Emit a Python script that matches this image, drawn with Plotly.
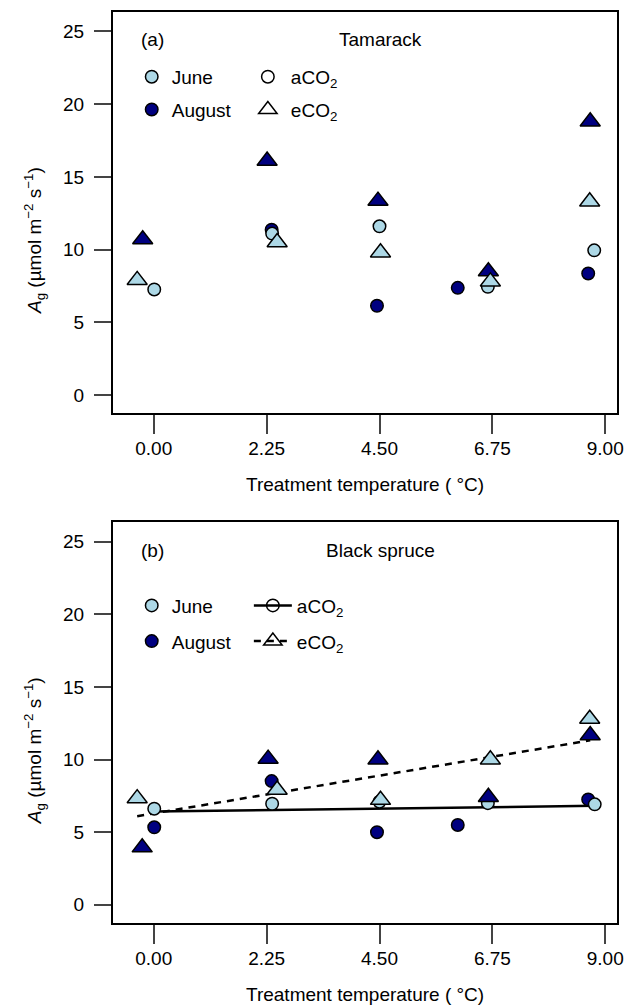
import numpy as np
import plotly.graph_objects as go

# ---------------- data ----------------
TICK_VALS = [0, 2.25, 4.5, 6.75, 9]
TICK_TEXT = ["0.00", "2.25", "4.50", "6.75", "9.00"]
Y_TICKS = [0, 5, 10, 15, 20, 25]

# Panel (a) Tamarack
tam_june_a_x = [0.01, 2.36, 4.50, 6.66, 8.78]
tam_june_a_y = [7.26, 11.1, 11.6, 7.44, 9.95]
tam_aug_a_x = [2.35, 4.45, 6.06, 8.66]
tam_aug_a_y = [11.37, 6.14, 7.37, 8.36]
tam_june_e_x = [-0.33, 2.46, 4.52, 6.71, 8.69]
tam_june_e_y = [7.9, 10.5, 9.8, 7.8, 13.3]
tam_aug_e_x = [-0.22, 2.26, 4.47, 6.67, 8.70]
tam_aug_e_y = [10.7, 16.1, 13.35, 8.5, 18.8]

# Panel (b) Black spruce
bs_june_a_x = [0.01, 2.36, 4.50, 6.66, 8.79]
bs_june_a_y = [6.62, 6.96, 7.1, 7.0, 6.92]
bs_aug_a_x = [0.01, 2.35, 4.45, 6.06, 8.66]
bs_aug_a_y = [5.34, 8.52, 5.0, 5.5, 7.26]
bs_june_e_x = [-0.33, 2.46, 4.52, 6.71, 8.69]
bs_june_e_y = [7.33, 7.92, 7.22, 10.0, 12.8]
bs_aug_e_x = [-0.23, 2.28, 4.47, 6.67, 8.70]
bs_aug_e_y = [3.95, 10.05, 10.0, 7.42, 11.67]

# ---------------- style ----------------
FONT = "Liberation Sans, Arial, Helvetica, sans-serif"
FS = 19
LIGHT = "#ADD8E6"
NAVY = "#000080"
CIRC = 12.5
TRI = 17.5
W, H = 635, 1005
ML, MR, MT, MB = 113.3, 18.3, 10, 81.7
PW = W - ML - MR
PH = H - MT - MB


def px_x(p):
    return (p - ML) / PW


def px_y(p):
    return (H - MB - p) / PH


fig = go.Figure()


def add_points(xs, ys, color, symbol, size, xa, ya):
    fig.add_trace(go.Scatter(
        x=xs, y=ys, mode="markers", xaxis=xa, yaxis=ya, showlegend=False,
        marker=dict(symbol=symbol, size=size, color=color,
                    line=dict(color="black", width=1.5)),
        hoverinfo="skip"))


# Panel (a)
add_points(tam_aug_a_x, tam_aug_a_y, NAVY, "circle", CIRC, "x", "y")
add_points(tam_june_a_x, tam_june_a_y, LIGHT, "circle", CIRC, "x", "y")
add_points(tam_aug_e_x, tam_aug_e_y, NAVY, "triangle-up", TRI, "x", "y")
add_points(tam_june_e_x, tam_june_e_y, LIGHT, "triangle-up", TRI, "x", "y")

# Panel (b) fitted lines (OLS per CO2 treatment)
a_x = np.array(bs_june_a_x + bs_aug_a_x)
a_y = np.array(bs_june_a_y + bs_aug_a_y)
e_x = np.array(bs_june_e_x + bs_aug_e_x)
e_y = np.array(bs_june_e_y + bs_aug_e_y)
for xs, ys, dash in [(a_x, a_y, "solid"), (e_x, e_y, "7px,6px")]:
    slope, icpt = np.polyfit(xs, ys, 1)
    lx = np.array([xs.min(), xs.max()])
    fig.add_trace(go.Scatter(
        x=lx, y=icpt + slope * lx, mode="lines", xaxis="x2", yaxis="y2",
        showlegend=False, line=dict(color="black", width=2.5, dash=dash),
        hoverinfo="skip"))

add_points(bs_aug_a_x, bs_aug_a_y, NAVY, "circle", CIRC, "x2", "y2")
add_points(bs_june_a_x, bs_june_a_y, LIGHT, "circle", CIRC, "x2", "y2")
add_points(bs_aug_e_x, bs_aug_e_y, NAVY, "triangle-up", TRI, "x2", "y2")
add_points(bs_june_e_x, bs_june_e_y, LIGHT, "triangle-up", TRI, "x2", "y2")

# ---------------- legends (legend-only traces) ----------------
def leg(name, legend, group, mode="markers", symbol="circle", color="black",
        size=CIRC, dash="solid"):
    fig.add_trace(go.Scatter(
        x=[None], y=[None], name=name, mode=mode, legend=legend,
        legendgroup=group, xaxis="x", yaxis="y",
        marker=dict(symbol=symbol, size=size, color=color,
                    line=dict(color="black", width=1.5)),
        line=dict(color="black", width=2.5, dash=dash)))


leg("June", "legend", "a1", symbol="circle", color=LIGHT)
leg("August", "legend", "a2", symbol="circle", color=NAVY)
leg("aCO<sub>2</sub>", "legend2", "a3", symbol="circle-open")
leg("eCO<sub>2</sub>", "legend2", "a4", symbol="triangle-up-open", size=TRI)
leg("June", "legend3", "b1", symbol="circle", color=LIGHT)
leg("August", "legend3", "b2", symbol="circle", color=NAVY)
leg("aCO<sub>2</sub>", "legend4", "b3", mode="lines+markers", symbol="circle-open")
leg("eCO<sub>2</sub>", "legend4", "b4", mode="lines+markers",
    symbol="triangle-up-open", size=TRI, dash="7px,6px")


def legend_cfg(left_px, top_px, gap, iw=30):
    return dict(x=px_x(left_px), y=px_y(top_px), xanchor="left", yanchor="top",
                bgcolor="rgba(0,0,0,0)", borderwidth=0, itemwidth=iw,
                font=dict(family=FONT, size=FS, color="black"),
                traceorder="grouped", tracegroupgap=gap)


# ---------------- axes ----------------
XR = [-0.812, 9.234]
YR = [-1.25, 26.33]
ax_common = dict(showgrid=False, zeroline=False, showline=True, linecolor="black",
                 linewidth=2, mirror=True, ticks="outside", tickwidth=2,
                 tickcolor="#444", tickfont=dict(family=FONT, size=FS, color="black"))
xa = dict(range=XR, tickvals=TICK_VALS, ticktext=TICK_TEXT, ticklen=19,
          ticklabelstandoff=-2, **ax_common)
ya = dict(range=YR, tickvals=Y_TICKS, ticklen=17, ticklabelstandoff=6, **ax_common)

dom_a = [px_y(412.3), 1]
dom_b = [0, px_y(521.7)]

ytitle = "<i>A</i><sub>g</sub> (µmol m<sup>−2</sup> s<sup>−1</sup>)"
xtitle = "Treatment temperature ( °C)"

annots = []
for off, tag, name in [(0, "(a)", "Tamarack"), (511.4, "(b)", "Black spruce")]:
    annots += [
        dict(text=tag, x=px_x(153), y=px_y(38 + off), xanchor="center", yanchor="middle"),
        dict(text=name, x=px_x(380), y=px_y(38 + off), xanchor="center", yanchor="middle"),
        dict(text=xtitle, x=px_x(365), y=px_y(484 + off), xanchor="center", yanchor="middle"),
        dict(text=ytitle, x=px_x(35), y=px_y(239 + off), xanchor="center",
             yanchor="middle", textangle=-90),
    ]
for a in annots:
    a.update(xref="paper", yref="paper", showarrow=False,
             font=dict(family=FONT, size=FS, color="black"))

fig.update_layout(
    width=W, height=H, autosize=False,
    margin=dict(l=ML, r=MR, t=MT, b=MB, pad=0),
    paper_bgcolor="white", plot_bgcolor="white",
    font=dict(family=FONT, size=FS, color="black"),
    xaxis=dict(domain=[0, 1], anchor="y", **xa),
    yaxis=dict(domain=dom_a, anchor="x", **ya),
    xaxis2=dict(domain=[0, 1], anchor="y2", **xa),
    yaxis2=dict(domain=dom_b, anchor="x2", **ya),
    legend=legend_cfg(132, 56, 5),
    legend2=legend_cfg(245, 56, 5, 36),
    legend3=legend_cfg(132, 586, 8),
    legend4=legend_cfg(249, 586, 8, 38),
    annotations=annots,
)

fig.write_html("out.html", config={"displayModeBar": False},
               post_script="document.body.style.margin='0';document.body.style.overflow='hidden';")
